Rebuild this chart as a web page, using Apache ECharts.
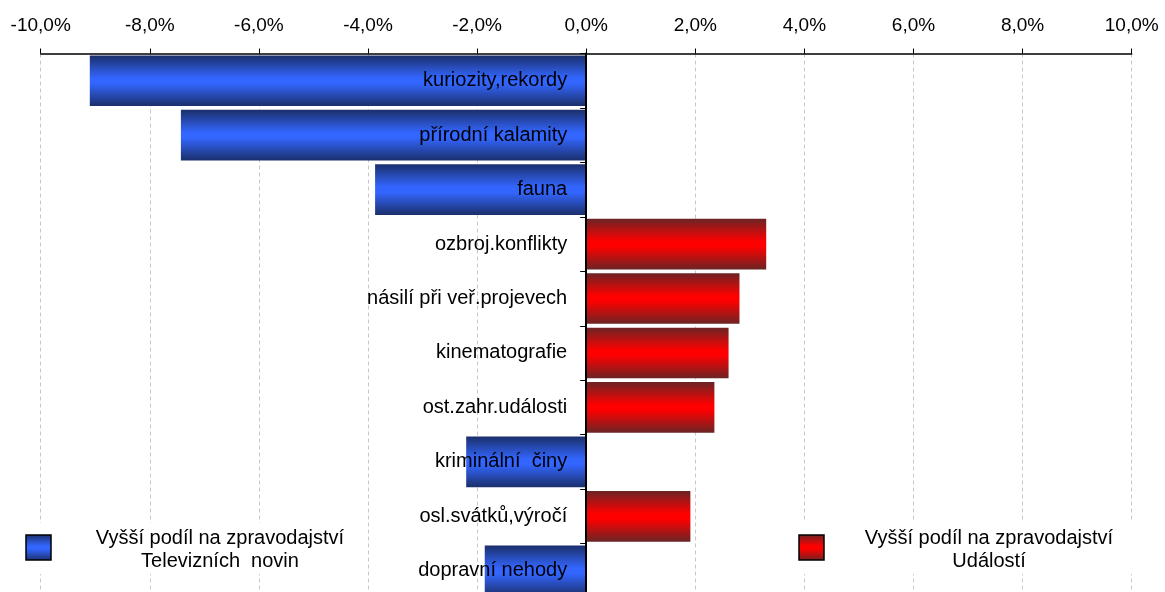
<!DOCTYPE html>
<html>
<head>
<meta charset="utf-8">
<script src="https://cdn.jsdelivr.net/npm/echarts@6/dist/echarts.min.js"></script>
<style>html,body{margin:0;padding:0;background:#fff;}#c{width:1165px;height:592px;}</style>
</head>
<body>
<div id="c"></div>
<script>
const categories = ['kuriozity,rekordy','přírodní kalamity','fauna','ozbroj.konflikty','násilí při veř.projevech','kinematografie','ost.zahr.události','kriminální  činy','osl.svátků,výročí','dopravní nehody'];
const values = [-9.1, -7.43, -3.87, 3.3, 2.81, 2.61, 2.35, -2.2, 1.91, -1.86];
const xTicks = {min: -10, max: 10, interval: 2};
const legendTexts = ['Vyšší podíl na zpravodajství\nTelevizních  novin', 'Vyšší podíl na zpravodajství\nUdálostí'];

const tvn = values.map(v => v < 0 ? v : '-');
const udal = values.map(v => v > 0 ? v : '-');
const labelAnchors = categories.map(c => [0, c]);

const blueGrad = new echarts.graphic.LinearGradient(0,0,0,1,[
  {offset:0,color:'#1b2f6b'},{offset:0.45,color:'#3366ff'},{offset:0.55,color:'#3366ff'},{offset:1,color:'#1b2f6b'}]);
const redGrad = new echarts.graphic.LinearGradient(0,0,0,1,[
  {offset:0,color:'#6b2424'},{offset:0.45,color:'#ff0000'},{offset:0.55,color:'#ff0000'},{offset:1,color:'#6b2424'}]);

const FONT = 'Liberation Sans, Arial, sans-serif';
const chart = echarts.init(document.getElementById('c'), null, {renderer:'canvas'});
chart.setOption({
  animation: false,
  backgroundColor: '#fff',
  textStyle: {fontFamily: FONT},
  grid: {left: 40.7, right: 33.3, top: 53.5, bottom: -6, containLabel: false, outerBoundsMode: 'none'},
  xAxis: {
    type: 'value', position: 'top',
    min: xTicks.min, max: xTicks.max, interval: xTicks.interval,
    axisLine: {show: true, lineStyle: {color: '#000', width: 1.5}},
    axisTick: {show: true, inside: false, length: 5, lineStyle: {color: '#000', width: 1}},
    axisLabel: {color: '#000', fontSize: 19, fontFamily: FONT, margin: 18,
      formatter: v => v.toFixed(1).replace('.', ',') + '%'},
    splitLine: {show: true, lineStyle: {color: '#c8c8c8', width: 1, type: [4, 3]}}
  },
  yAxis: {
    type: 'category', inverse: true, data: categories, z: 5,
    axisLine: {show: true, onZero: true, lineStyle: {color: '#000', width: 2}},
    axisTick: {show: true, length: 6, lineStyle: {color: '#000', width: 1}},
    axisLabel: {show: false},
    splitLine: {show: false}
  },
  series: [
    {name: 'Televizních novin', type: 'bar', data: tvn, barGap: '-100%', barCategoryGap: '7%',
     itemStyle: {color: blueGrad}},
    {name: 'Událostí', type: 'bar', data: udal, barGap: '-100%', barCategoryGap: '7%',
     itemStyle: {color: redGrad}},
    {name: 'labels', type: 'scatter', data: labelAnchors, symbolSize: 0, z: 10, silent: true,
     itemStyle: {opacity: 1},
     label: {show: true, position: 'left', distance: 19, color: '#000', opacity: 1, fontSize: 20, fontFamily: FONT,
       formatter: p => p.value[1]}}
  ],
  graphic: [
    {type: 'rect', shape: {x: 20, y: 523, width: 330, height: 51}, style: {fill: '#fff'}, z: 1},
    {type: 'rect', shape: {x: 26, y: 535, width: 25, height: 25},
     style: {fill: blueGrad, stroke: '#000', lineWidth: 1.5}, z: 2},
    {type: 'text', x: 220, y: 550, z: 2,
     style: {text: legendTexts[0], font: '20px ' + FONT, fill: '#000', align: 'center', verticalAlign: 'middle', lineHeight: 23}},
    {type: 'rect', shape: {x: 795, y: 520, width: 345, height: 54}, style: {fill: '#fff'}, z: 1},
    {type: 'rect', shape: {x: 799, y: 535, width: 25, height: 25},
     style: {fill: redGrad, stroke: '#000', lineWidth: 1.5}, z: 2},
    {type: 'text', x: 989, y: 550, z: 2,
     style: {text: legendTexts[1], font: '20px ' + FONT, fill: '#000', align: 'center', verticalAlign: 'middle', lineHeight: 23}}
  ]
});
</script>
</body>
</html>
